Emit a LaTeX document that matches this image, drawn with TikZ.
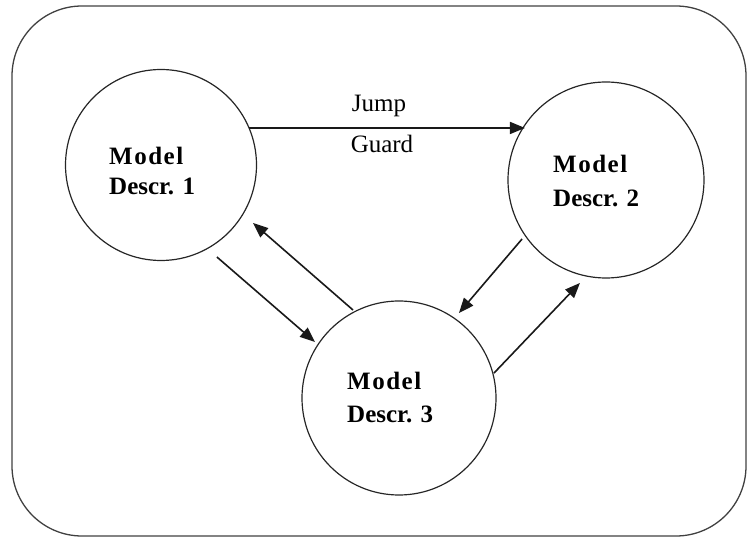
\documentclass[tikz,border=0pt]{standalone}
\usepackage{fontspec}
\setmainfont{Liberation Serif}
\usetikzlibrary{arrows.meta,calc}
\begin{document}
\begin{tikzpicture}[x=1pt,y=1pt,
  statecircle/.style={circle,draw=black!85,line width=1.2pt,inner sep=0pt},
  modeltext/.style={anchor=base west,inner sep=0pt,font=\fontsize{25}{30}\selectfont\bfseries},
  labeltext/.style={anchor=base,inner sep=0pt,font=\fontsize{25}{30}\selectfont},
  trans/.style={draw=black!90,line width=1.6pt,-{Triangle[length=15pt,width=12pt]}}]
\useasboundingbox (0,0) rectangle (748,539);
% outer frame
\draw[draw=black!75,line width=1.3pt,rounded corners=70pt] (12,3) rectangle (746,533);
% state circles
\node[statecircle,minimum size=191pt] (c1) at (161,374) {};
\node[statecircle,minimum size=196pt] (c2) at (606,359) {};
\node[statecircle,minimum size=194pt] (c3) at (399,141) {};
% texts
\node[modeltext] (t1a) at (109,374) {\addfontfeatures{LetterSpace=6}Model};
\node[modeltext] (t1b) at (109,344) {Descr. 1};
\node[modeltext] (t2a) at (553,366) {\addfontfeatures{LetterSpace=6}Model};
\node[modeltext] (t2b) at (553,332) {Descr. 2};
\node[modeltext] (t3a) at (347,149) {\addfontfeatures{LetterSpace=6}Model};
\node[modeltext] (t3b) at (347,116) {Descr. 3};
% jump guard transition
\draw[trans] ($(c1.center)+(22.8:95.5)$) -- ($(c2.center)+(147.3:96.3)$);
\node[labeltext] (jump) at (379,427) {Jump};
\node[labeltext] (guard) at (382,386) {Guard};
% other transitions
\draw[trans] ($(c3.center)+(117.6:99.3)$) -- ($(c1.center)+(-32.2:108.8)$);
\draw[trans] ($(c1.center)+(-58.7:107.7)$) -- ($(c3.center)+(146.3:101)$);
\draw[trans] ($(c2.center)+(215.1:102.6)$) -- ($(c3.center)+(54.8:104)$);
\draw[trans] ($(c3.center)+(14.7:98.2)$) -- ($(c2.center)+(255.8:106.2)$);
\end{tikzpicture}
\end{document}
